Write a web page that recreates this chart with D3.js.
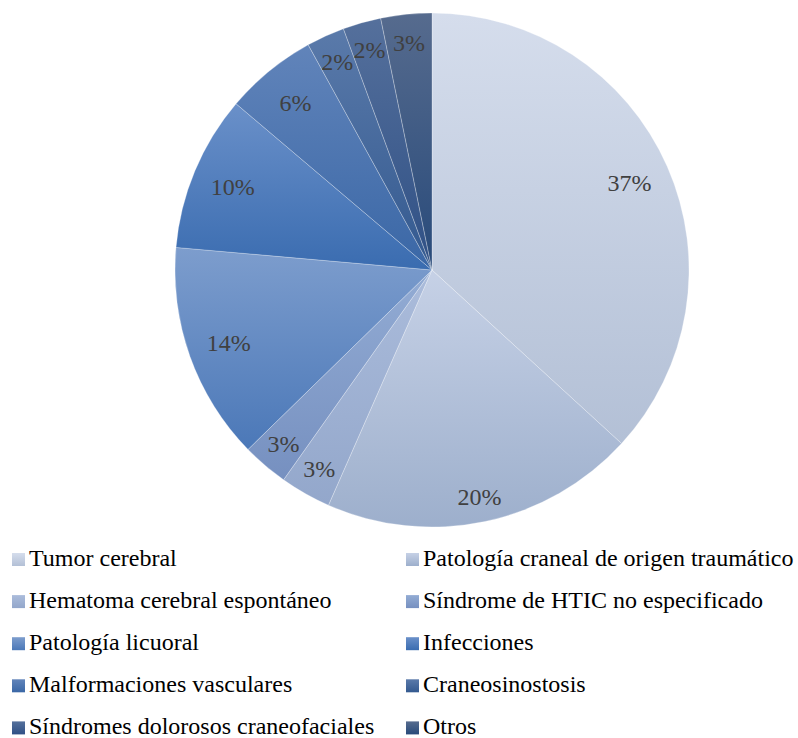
<!DOCTYPE html>
<html>
<head>
<meta charset="utf-8">
<script src="https://cdn.jsdelivr.net/npm/d3@7"></script>
<style>
  html, body { margin: 0; padding: 0; background: #fff; }
  svg { display: block; }
  svg text { font-family: "Liberation Serif", "Times New Roman", Times, "DejaVu Serif", serif; }
</style>
</head>
<body>
<svg id="chart" width="798" height="738"></svg>
<script>
const categories = [
  "Tumor cerebral",
  "Patología craneal de origen traumático",
  "Hematoma cerebral espontáneo",
  "Síndrome de HTIC no especificado",
  "Patología licuoral",
  "Infecciones",
  "Malformaciones vasculares",
  "Craneosinostosis",
  "Síndromes dolorosos craneofaciales",
  "Otros"
];
const values = [36.8, 19.8, 3.2, 2.9, 13.7, 9.8, 5.8, 2.4, 2.4, 3.2];
const colorsTop = ["#d5ddec", "#c6d1e6", "#abbcdb", "#93acd4", "#7d9dcd", "#6a90c9", "#6184ba", "#5a7aaa", "#55709c", "#566b8e"];
const colorsBottom = ["#b3c0d6", "#9dafcc", "#93a7cb", "#7690c0", "#4b78b8", "#3a6cb0", "#3a67a6", "#33598f", "#2f5085", "#284a7a"];

const svg = d3.select("#chart");
const cx = 432, cy = 270, R = 257;

const defs = svg.append("defs");
categories.forEach((c, i) => {
  const g = defs.append("linearGradient")
    .attr("id", "grad" + i)
    .attr("x1", 0).attr("y1", 0).attr("x2", 0).attr("y2", 1);
  g.append("stop").attr("offset", "0%").attr("stop-color", colorsTop[i]);
  g.append("stop").attr("offset", "100%").attr("stop-color", colorsBottom[i]);
});

const pie = d3.pie().sort(null).value(d => d.v).startAngle(0).endAngle(2 * Math.PI);
const data = values.map((v, i) => ({ v, i, name: categories[i] }));
const arcs = pie(data);
const total = d3.sum(values);

const arc = d3.arc().innerRadius(0).outerRadius(R);

const g = svg.append("g").attr("transform", `translate(${cx},${cy})`);

g.selectAll("path.slice")
  .data(arcs)
  .join("path")
  .attr("class", "slice")
  .attr("d", arc)
  .attr("fill", d => `url(#grad${d.data.i})`)
  .attr("stroke", "#ffffff")
  .attr("stroke-opacity", 0.45)
  .attr("stroke-width", 0.6);

g.selectAll("text.lbl")
  .data(arcs)
  .join("text")
  .attr("class", "lbl")
  .attr("transform", d => {
    const pct = d.data.v / total * 100;
    const f = pct < 5 ? 0.89 : (pct >= 18 && pct < 30 ? 0.9 : 0.84);
    const r = R * f;
    const a = (d.startAngle + d.endAngle) / 2;
    return `translate(${r * Math.sin(a)},${-r * Math.cos(a)})`;
  })
  .attr("text-anchor", "middle")
  .attr("dy", "0.35em")
  .attr("font-size", 24)
  .attr("fill", "#404040")
  .text(d => Math.round(d.data.v / total * 100) + "%");

// Legend
const colX = [12, 406];
const baseY0 = 566, rowH = 42.1;
const leg = svg.append("g");
const items = leg.selectAll("g.item")
  .data(data)
  .join("g")
  .attr("class", "item")
  .attr("transform", d => `translate(${colX[d.i % 2]},${baseY0 + Math.floor(d.i / 2) * rowH})`);

items.append("rect")
  .attr("x", 0).attr("y", -13)
  .attr("width", 13).attr("height", 13)
  .attr("fill", d => `url(#grad${d.i})`);

items.append("text")
  .attr("x", 17).attr("y", 0)
  .attr("font-size", 24)
  .attr("fill", "#000")
  .text(d => d.name);
</script>
</body>
</html>
